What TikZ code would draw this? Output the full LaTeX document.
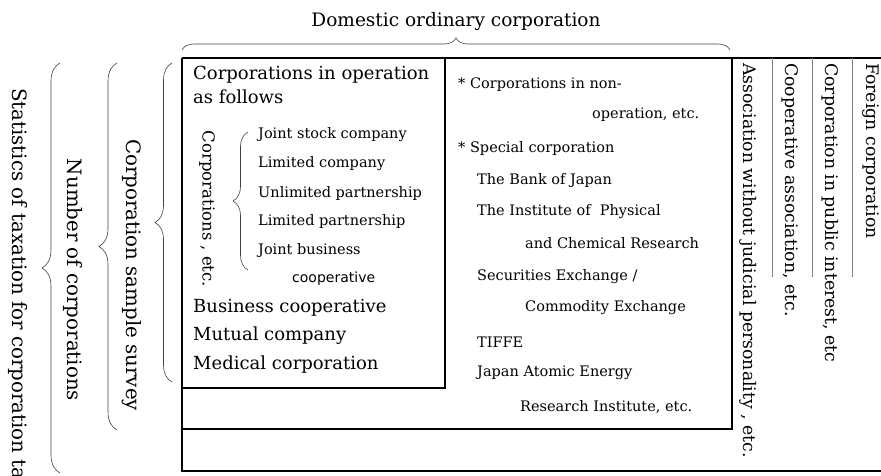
\documentclass[tikz,border=0pt]{standalone}
\usepackage{fontspec}
\setmainfont{DejaVu Serif}
\newfontfamily\gothfont{DejaVu Sans}
\usetikzlibrary{positioning, decorations.pathreplacing}

\begin{document}
\begin{tikzpicture}[
    x=1pt, y=1pt,
    frame/.style={line width=1.2pt},
    sep/.style={line width=0.8pt, gray},
    brc/.style={decorate, decoration={brace, amplitude=#1}, line width=0.6pt, black!75},
    big/.style={anchor=west, inner sep=0pt, font=\fontsize{18}{20}\selectfont},
    small/.style={anchor=west, inner sep=0pt, font=\fontsize{14.5}{16}\selectfont},
    vert/.style={rotate=-90, inner sep=0pt, font=\fontsize{19.8}{22}\selectfont},
    vcol/.style={rotate=-90, anchor=west, inner sep=0pt, font=\fontsize{17.3}{19}\selectfont}
]
    \useasboundingbox (0,0) rectangle (881,475);
    \clip (0,0) rectangle (881,475);

    % --- Corners of the frames ---
    \coordinate (nw) at (182,417);
    \coordinate (ne) at (881,417);
    \coordinate (sw) at (182,4);
    \coordinate (se) at (881,4);
    \coordinate (opn) at (445,417);
    \coordinate (ops) at (445,87);
    \coordinate (opw) at (182,87);
    \coordinate (domn) at (732,417);
    \coordinate (doms) at (732,46);
    \coordinate (domw) at (182,46);

    % --- Frames ---
    \draw[frame] (nw) -- (ne);
    \draw[frame] (nw) -- (sw) -- (se);
    \draw[frame] (opn) -- (ops) -- (opw);   % corporations in operation
    \draw[frame] (domn) -- (doms) -- (domw); % domestic ordinary corporation

    % --- Separators of the right columns ---
    \foreach \x in {772,812,852}
        \draw[sep] (\x,417) -- (\x,198);

    % --- Braces ---
    \draw[brc=12] (182,425) -- (730,425);
    \draw[brc=18] (60,2) -- (60,412);
    \draw[brc=18] (117,45) -- (117,412);
    \draw[brc=17] (172,93) -- (172,412);
    \draw[brc=15] (248,205) -- (248,343);

    % --- Headings ---
    \node[font=\fontsize{18.5}{20}\selectfont] (dom) at (456,453) {Domestic ordinary corporation};
    \node[vert, anchor=west] (stat) at (18,387) {Statistics of taxation for corporation tax};
    \node[vert] (num) at (73,195) {Number of corporations};
    \node[vert] (samp) at (132,200) {Corporation sample survey};

    % --- Corporations in operation ---
    \node[big] (op1) at (193,400) {Corporations in operation};
    \node[big] (op2) at (193,378) {as follows};
    \node[vert, font=\fontsize{16.5}{18}\selectfont] (corpetc) at (207,266) {Corporations , etc.};
    \node[small] (jsc) at (258,340) {Joint stock company};
    \node[small] (lc) at (258,311) {Limited company};
    \node[small] (ulp) at (258,282) {Unlimited partnership};
    \node[small] (lp) at (258,254) {Limited partnership};
    \node[small] (jb1) at (258,225) {Joint business};
    \node[small, font=\gothfont\fontsize{14}{16}\selectfont] (jb2) at (292,196) {cooperative};
    \node[big] (bc) at (193,167) {Business cooperative};
    \node[big] (mc) at (193,139) {Mutual company};
    \node[big] (med) at (193,110) {Medical corporation};

    % --- Non-operation and special corporations ---
    \node[small] (non1) at (458,390) {* Corporations in non-};
    \node[small] (non2) at (592,360) {operation, etc.};
    \node[small] (spc) at (458,327) {* Special corporation};
    \node[small] (boj) at (477,295) {The Bank of Japan};
    \node[small] (ipc1) at (477,263) {The Institute of~ Physical};
    \node[small] (ipc2) at (525,232) {and Chemical Research};
    \node[small] (sec1) at (477,198) {Securities Exchange /};
    \node[small] (sec2) at (525,167) {Commodity Exchange};
    \node[small] (tiffe) at (477,133) {TIFFE};
    \node[small] (jae1) at (477,102) {Japan Atomic Energy};
    \node[small] (jae2) at (520,68) {Research Institute, etc.};

    % --- Other corporations ---
    \node[vcol] (assoc) at (748,412) {Association without judicial personality , etc.};
    \node[vcol] (coop) at (790,412) {Cooperative association, etc.};
    \node[vcol] (pub) at (830,412) {Corporation in public interest, etc};
    \node[vcol] (foreign) at (871,412) {Foreign corporation};

\end{tikzpicture}
\end{document}
